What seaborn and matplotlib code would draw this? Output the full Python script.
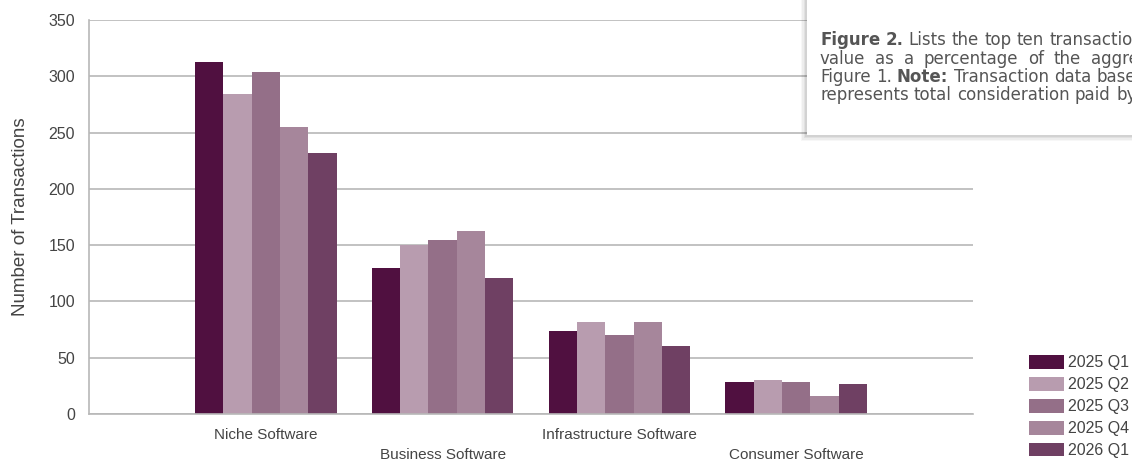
import pandas as pd
import matplotlib.pyplot as plt
import seaborn as sns
from matplotlib.patches import Patch, Rectangle

# data
categories = ['Niche Software', 'Business Software', 'Infrastructure Software', 'Consumer Software']
quarters = ['2025 Q1', '2025 Q2', '2025 Q3', '2025 Q4', '2026 Q1']
q1_2025 = [313, 130, 74, 28]
q2_2025 = [284, 150, 82, 30]
q3_2025 = [304, 155, 70, 28]
q4_2025 = [255, 163, 82, 16]
q1_2026 = [232, 121, 60, 27]
colores = ['#501040', '#b89caf', '#946f88', '#a6869b', '#6f4063']

series = [q1_2025, q2_2025, q3_2025, q4_2025, q1_2026]
filas = []
for q, vals in zip(quarters, series):
    for cat, v in zip(categories, vals):
        filas.append({'category': cat, 'quarter': q, 'count': v})
df = pd.DataFrame(filas)

sns.set_style('white')
plt.rcParams['font.family'] = ['Liberation Sans', 'DejaVu Sans']

W, H = 1132, 459
fig = plt.figure(figsize=(W / 100, H / 100), dpi=100)
ax = fig.add_axes([89 / W, 1 - 414 / H, (973 - 89) / W, (414 - 20) / H])

sns.barplot(data=df, x='category', y='count', hue='quarter', palette=colores,
            width=0.8, saturation=1, linewidth=0, ax=ax)
ax.get_legend().remove()

grid_col = '#b8b8b8'
text_col = '#444444'
ax.set_xlim(-1, 4)
ax.set_ylim(0, 350)
ax.set_yticks(range(0, 351, 50))
ax.yaxis.grid(True, color=grid_col, linewidth=1.2)
ax.set_axisbelow(True)
for s in ['top', 'right']:
    ax.spines[s].set_visible(False)
for s in ['left', 'bottom']:
    ax.spines[s].set_color(grid_col)
    ax.spines[s].set_linewidth(1.2)

# etiquetas alternadas en dos filas
etiquetas = [c if i % 2 == 0 else '\n' + c for i, c in enumerate(categories)]
ax.set_xticks(range(len(categories)))
ax.set_xticklabels(etiquetas, fontsize=11, color=text_col, linespacing=1.55)
ax.tick_params(axis='x', length=4, width=1, color=grid_col, pad=6)
ax.tick_params(axis='y', length=9, width=1, color=grid_col, labelsize=11.5,
               labelcolor=text_col, pad=1)
ax.set_xlabel('')
ax.set_ylabel('Number of Transactions', fontsize=13.5, color=text_col, labelpad=14)

# leyenda
handles = [Patch(facecolor=c, edgecolor='none') for c in colores]
fig.legend(handles, quarters, loc='upper left', bbox_to_anchor=(1029 / W, 1 - 355 / H),
           frameon=False, fontsize=11.5, handlelength=2.2, handleheight=0.95,
           labelspacing=0.41, handletextpad=0.25, borderpad=0, borderaxespad=0,
           labelcolor=text_col)

# cuadro de texto con sombra (recortado por el borde derecho)
bx, by = 807 / W, 1 - 135 / H
for k, a in enumerate([0.03, 0.04, 0.05, 0.06]):
    d = (4 - k) * 1.5
    fig.patches.append(Rectangle((bx - d / W, by - d / H), 1, 1, transform=fig.transFigure,
                                 facecolor='black', alpha=a, edgecolor='none', zorder=5))
fig.patches.append(Rectangle((bx, by), 1, 1, transform=fig.transFigure,
                             facecolor='white', edgecolor='none', zorder=6))

cap_col = '#555555'
fs = 12
x0 = 820
lineas_y = [45, 63.5, 82, 100.5]
renderer = fig.canvas.get_renderer()
espacio = fig.text(0, 0, 'a a', fontsize=fs, family='DejaVu Sans')
sin_espacio = fig.text(0, 0, 'aa', fontsize=fs, family='DejaVu Sans')
ancho_esp = (espacio.get_window_extent(renderer).width
             - sin_espacio.get_window_extent(renderer).width)
espacio.remove()
sin_espacio.remove()


def linea(y, partes, extra=0):
    """Palabra a palabra sobre la misma linea base; extra = px anadidos por espacio"""
    x = x0
    for texto, peso in partes:
        for palabra in texto.split(' '):
            if palabra == '':
                continue
            t = fig.text(x / W, 1 - y / H, palabra, fontsize=fs, color=cap_col,
                         weight=peso, family='DejaVu Sans', va='baseline',
                         ha='left', zorder=7)
            x += t.get_window_extent(renderer).width + ancho_esp + extra


linea(lineas_y[0], [('Figure 2.', 'bold'), ('Lists the top ten transactions by deal', 'normal')])
linea(lineas_y[1], [('value as a percentage of the aggregate deal value', 'normal')], extra=4.5)
linea(lineas_y[2], [('Figure 1.', 'normal'), ('Note:', 'bold'), ('Transaction data based on announced', 'normal')])
linea(lineas_y[3], [('represents total consideration paid by the acquirer', 'normal')])

plt.savefig('out.png', dpi=100)
